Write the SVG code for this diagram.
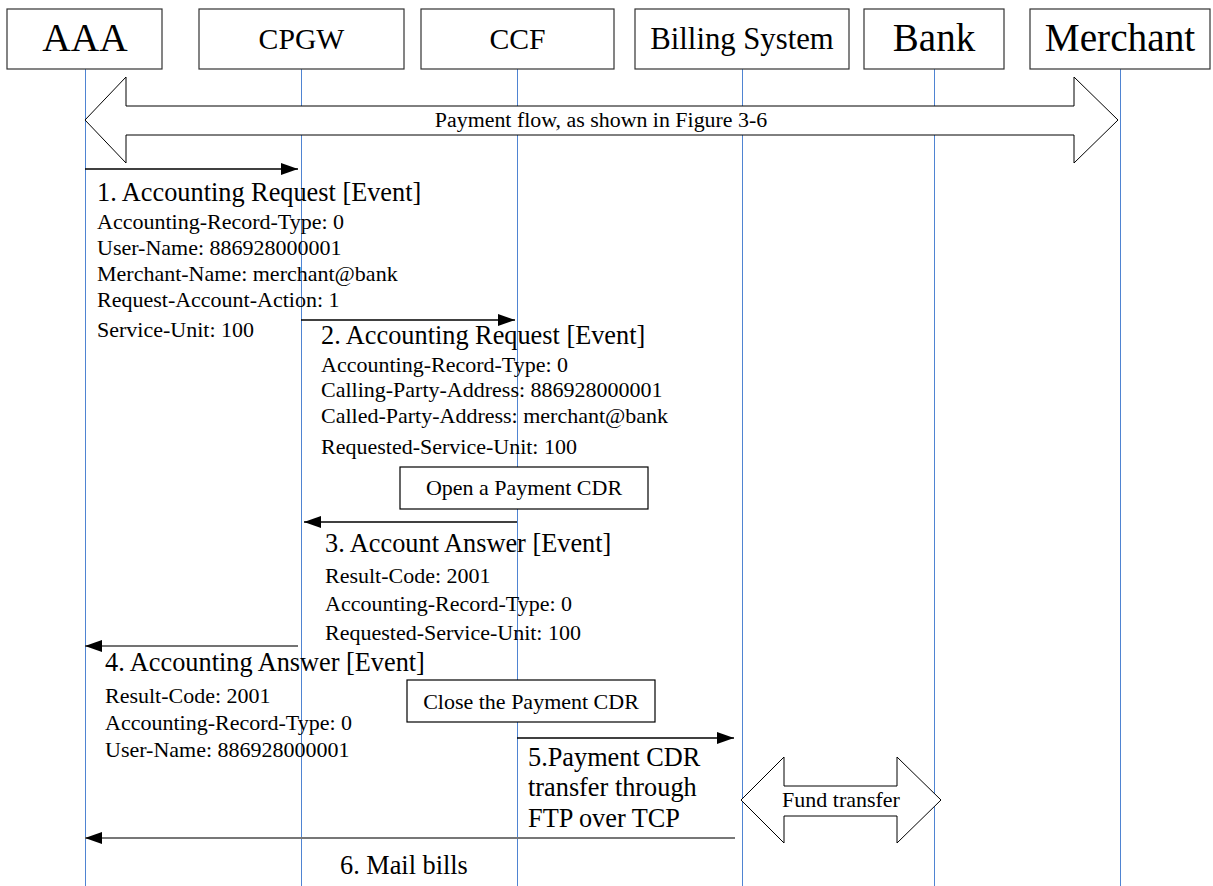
<svg xmlns="http://www.w3.org/2000/svg" width="1213" height="886" viewBox="0 0 1213 886">
<style>
text{font-family:"Liberation Serif","Times New Roman",serif;fill:#000}
.hdr{fill:#fff;stroke:#333;stroke-width:1.2}
.life{stroke:#4f84d2;stroke-width:1}
.msg{stroke:#000;stroke-width:1.5;fill:none}
.msg2{stroke:#444;stroke-width:1.5;fill:none}
.msg3{stroke:#777;stroke-width:2.2;fill:none}
.big{fill:#fff;stroke:#000;stroke-width:1}
.note{fill:#fff;stroke:#000;stroke-width:1.2}
.t1{font-size:26.3px}
.t2{font-size:22px}
</style>
<defs>
<marker id="ah" viewBox="0 0 17 12" refX="17" refY="6" markerWidth="17" markerHeight="12" markerUnits="userSpaceOnUse" orient="auto">
<path d="M0,0 L17,6 L0,12 z" fill="#000"/>
</marker>
</defs>
<rect width="1213" height="886" fill="#fff"/>
<g id="lifelines">
<line class="life" x1="85.5" y1="69" x2="85.5" y2="886"/>
<line class="life" x1="301.5" y1="69" x2="301.5" y2="886"/>
<line class="life" x1="517.5" y1="69" x2="517.5" y2="886"/>
<line class="life" x1="742.5" y1="69" x2="742.5" y2="886"/>
<line class="life" x1="934.5" y1="69" x2="934.5" y2="886"/>
<line class="life" x1="1120.5" y1="69" x2="1120.5" y2="886"/>
</g>
<g id="node-aaa"><rect class="hdr" x="7" y="9" width="155" height="60"/><text x="85" y="51" font-size="39.4" text-anchor="middle">AAA</text></g>
<g id="node-cpgw"><rect class="hdr" x="199" y="9" width="205" height="60"/><text x="301.5" y="49" font-size="29.7" text-anchor="middle">CPGW</text></g>
<g id="node-ccf"><rect class="hdr" x="421" y="9" width="193" height="60"/><text x="517.5" y="49" font-size="29.7" text-anchor="middle">CCF</text></g>
<g id="node-billing"><rect class="hdr" x="635" y="9" width="214" height="60"/><text x="742" y="49" font-size="30.7" text-anchor="middle">Billing System</text></g>
<g id="node-bank"><rect class="hdr" x="864" y="9" width="140" height="60"/><text x="934" y="51" font-size="39" text-anchor="middle">Bank</text></g>
<g id="node-merchant"><rect class="hdr" x="1030" y="9" width="180" height="60"/><text x="1120" y="51" font-size="39.3" text-anchor="middle">Merchant</text></g>
<g id="payment-flow">
<polygon class="big" points="85,120 126,77 126,106 1074,106 1074,77 1118,120 1074,163 1074,135 126,135 126,163"/>
<text x="601" y="127" font-size="21.9" text-anchor="middle">Payment flow, as shown in Figure 3-6</text>
</g>
<g id="fund-transfer">
<polygon class="big" points="741,800 784,757 784,786 897,786 897,757 941,800 897,843 897,816 784,816 784,843"/>
<text x="841" y="807" font-size="22" text-anchor="middle">Fund transfer</text>
</g>
<g id="note-open"><rect class="note" x="400" y="467" width="248" height="42"/><text x="524" y="495" class="t2" text-anchor="middle">Open a Payment CDR</text></g>
<g id="note-close"><rect class="note" x="407" y="680" width="248" height="42"/><text x="531" y="709" class="t2" text-anchor="middle">Close the Payment CDR</text></g>
<g id="connectors">
<line class="msg" x1="85" y1="169" x2="298" y2="169" marker-end="url(#ah)"/>
<line class="msg" x1="301" y1="320" x2="515" y2="320" marker-end="url(#ah)"/>
<line class="msg" x1="517" y1="522" x2="304" y2="522" marker-end="url(#ah)"/>
<line class="msg2" x1="298" y1="646" x2="85" y2="646" marker-end="url(#ah)"/>
<line class="msg" x1="517" y1="738" x2="734" y2="738" marker-end="url(#ah)"/>
<line class="msg3" x1="735" y1="838" x2="85" y2="838" marker-end="url(#ah)"/>
</g>
<g id="label-1">
<text x="97" y="201" class="t1">1. Accounting Request [Event]</text>
<text x="97" y="229" class="t2">Accounting-Record-Type: 0</text>
<text x="97" y="255" class="t2">User-Name: 886928000001</text>
<text x="97" y="281" class="t2">Merchant-Name: merchant@bank</text>
<text x="97" y="307" class="t2">Request-Account-Action: 1</text>
<text x="97" y="337" class="t2">Service-Unit: 100</text>
</g>
<g id="label-2">
<text x="321" y="344" class="t1">2. Accounting Request [Event]</text>
<text x="321" y="372" class="t2">Accounting-Record-Type: 0</text>
<text x="321" y="397" class="t2">Calling-Party-Address: 886928000001</text>
<text x="321" y="423" class="t2">Called-Party-Address: merchant@bank</text>
<text x="321" y="454" class="t2">Requested-Service-Unit: 100</text>
</g>
<g id="label-3">
<text x="325" y="552" class="t1">3. Account Answer [Event]</text>
<text x="325" y="583" class="t2">Result-Code: 2001</text>
<text x="325" y="611" class="t2">Accounting-Record-Type: 0</text>
<text x="325" y="640" class="t2">Requested-Service-Unit: 100</text>
</g>
<g id="label-4">
<text x="105" y="671" class="t1">4. Accounting Answer [Event]</text>
<text x="105" y="703" class="t2">Result-Code: 2001</text>
<text x="105" y="730" class="t2">Accounting-Record-Type: 0</text>
<text x="105" y="757" class="t2">User-Name: 886928000001</text>
</g>
<g id="label-5">
<text x="528" y="766" class="t1">5.Payment CDR</text>
<text x="528" y="796" class="t1">transfer through</text>
<text x="528" y="827" class="t1">FTP over TCP</text>
</g>
<g id="label-6">
<text x="340" y="874" class="t1">6. Mail bills</text>
</g>
</svg>
